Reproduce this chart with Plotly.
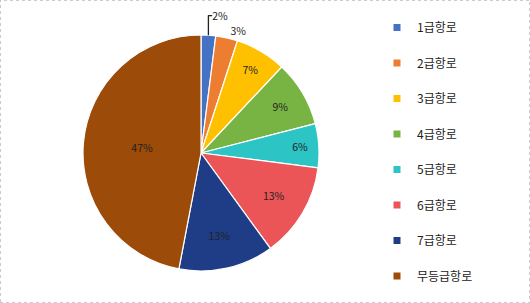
import plotly.graph_objects as go

labels = ["1급항로", "2급항로", "3급항로", "4급항로", "5급항로", "6급항로", "7급항로", "무등급항로"]
values = [2, 3, 7, 9, 6, 13, 13, 47]
colors = ["#4472C4", "#ED7D31", "#FFC000", "#78B443", "#2CC4C4", "#EC5558", "#1F3C86", "#9C4B08"]
text_pos = ["outside", "outside", "inside", "inside", "inside", "inside", "inside", "inside"]

FONT = "Noto Sans CJK KR, Malgun Gothic, sans-serif"

fig = go.Figure()
fig.add_trace(go.Pie(
    labels=labels, values=values, sort=False, direction="clockwise", rotation=0,
    marker=dict(colors=colors, line=dict(color="white", width=1.2)),
    textinfo="percent", texttemplate="%{percent:.0%}",
    textposition=text_pos, insidetextorientation="horizontal",
    textfont=dict(family=FONT, size=10.5, color="#222222"),
    showlegend=False,
    domain=dict(x=[83/530, 319/530], y=[(303-272)/303, (303-34)/303]),
))

for lab, col in zip(labels, colors):
    fig.add_trace(go.Scatter(
        x=[None], y=[None], mode="markers", name=lab, legendgroup=lab,
        marker=dict(symbol="square", size=7, color=col),
    ))

fig.update_layout(
    width=530, height=303,
    margin=dict(l=0, r=0, t=0, b=0),
    paper_bgcolor="white", plot_bgcolor="white",
    xaxis=dict(visible=False), yaxis=dict(visible=False),
    legend=dict(x=377/530, y=(303-13)/303, xanchor="left", yanchor="top",
                font=dict(family=FONT, size=12, color="#222222"),
                tracegroupgap=16.5, itemwidth=30, bgcolor="rgba(0,0,0,0)"),
    shapes=[dict(type="rect", xref="paper", yref="paper", x0=0, x1=1, y0=0, y1=1,
                 line=dict(color="#BBBBBB", width=1.5, dash="dot"))],
)
fig.write_html("out.html")
